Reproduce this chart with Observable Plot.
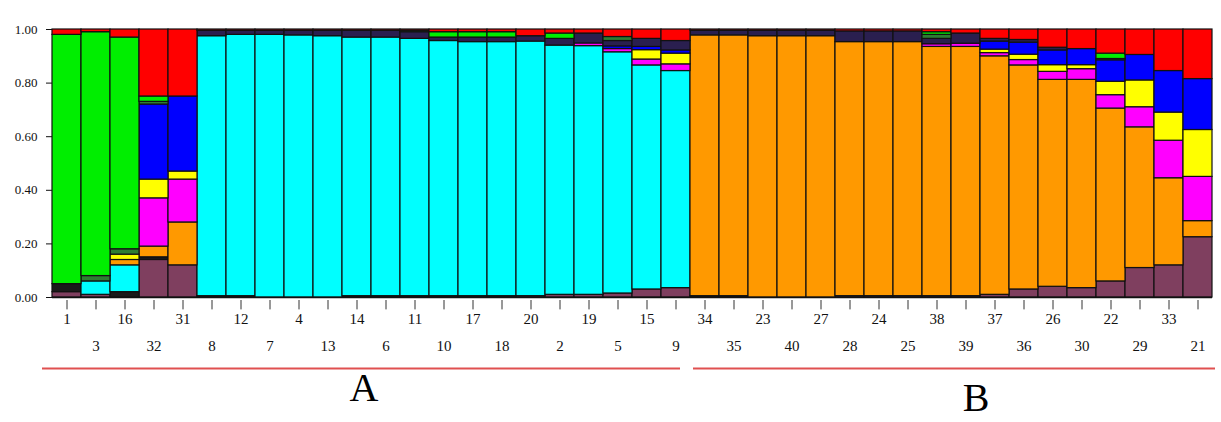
<!DOCTYPE html>
<html>
<head>
<meta charset="utf-8">
<script src="https://cdn.jsdelivr.net/npm/d3@7"></script>
<script src="https://cdn.jsdelivr.net/npm/@observablehq/plot@0.6"></script>
<style>
  html, body { margin: 0; padding: 0; background: #fff; }
  #chart { width: 1221px; height: 422px; }
</style>
</head>
<body>
<div id="chart"></div>
<script>
// Individuals in plotted order
const ids = ["1","3","16","32","31","8","12","7","4","13","14","6","11","10","17","18","20","2","19","5","15","9",
             "34","35","23","40","27","28","24","25","38","39","37","36","26","30","22","29","33","21"];

// Clusters (bottom to top) and their colours
const clusters = ["K1","K2","K3","K4","K5","K6","K7","K8","K9","K10","K11"];
const clusterColors = ["#7f3f5f","#1a1a1a","#00ffff","#ff9900","#ff00ff","#ffff00","#0000ff","#2a1f4f","#2e7d32","#00ee00","#ff0000"];

// Membership coefficients per cluster (one value per individual, same order as ids)
const k1maroon    = [.02,.01,0,.14,.12, 0,0,0,0,0, 0,0,0,0,0, 0,.005,.01,.01,.015, .03,.035, 0,0,0,0,0, .005,.005,.005,.005,.005, .01,.03,.04,.035,.06,.11,.12,.225];
const k2black     = [.03,0,.02,.01,0, .005,.005,0,0,0, .005,.005,.005,.005,.005, .005,0,0,0,0, 0,0, .005,.005,0,0,0, 0,0,0,0,0, 0,0,0,0,0,0,0,0];
const k3cyan      = [0,.05,.10,0,0, .97,.975,.98,.978,.975, .965,.965,.96,.952,.948, .948,.95,.93,.928,.9, .836,.81, 0,0,0,0,0, 0,0,0,0,0, 0,0,0,0,0,0,0,0];
const k4orange    = [0,0,.02,.04,.16, 0,0,0,0,0, 0,0,0,0,0, 0,0,0,0,0, 0,0, .973,.973,.975,.975,.975, .948,.948,.948,.93,.93, .89,.836,.772,.777,.645,.525,.325,.06];
const k5magenta   = [0,0,0,.18,.16, 0,0,0,0,0, 0,0,0,0,0, 0,0,0,.01,.012, .022,.025, 0,0,0,0,0, 0,0,0,.01,.012, .012,.02,.03,.04,.05,.075,.14,.165];
const k6yellow    = [0,0,.02,.07,.03, 0,0,0,0,0, 0,0,0,0,0, 0,0,0,0,0, .035,.04, 0,0,0,0,0, 0,0,0,0,0, .013,.02,.025,.015,.05,.1,.105,.175];
const k7blue      = [0,0,0,.28,.28, 0,0,0,0,0, 0,0,0,0,0, 0,0,0,0,.01, .012,.012, 0,0,0,0,0, 0,0,0,0,0, .03,.045,.055,.06,.08,.095,.155,.19];
const k8navy      = [0,0,0,0,0, .02,.015,.015,.017,.02, .025,.025,.025,.013,.017, .017,.02,.025,.037,.02, .03,.035, .017,.017,.02,.02,.02, .04,.04,.04,.02,.038, .01,.01,.01,0,0,0,0,0];
const k9darkgreen = [0,.02,.02,.01,0, 0,0,0,0,0, 0,0,.005,0,0, 0,0,0,0,.015, 0,0, 0,0,0,0,0, 0,0,0,.015,0, 0,0,0,0,.005,0,0,0];
const k10green    = [.93,.91,.79,.02,0, 0,0,0,0,0, 0,0,0,.02,.02, .02,0,.02,0,0, 0,0, 0,0,0,0,0, 0,0,0,.01,0, 0,0,0,0,.02,0,0,0];
const k11red      = [.02,.01,.03,.25,.25, .005,.005,.005,.005,.005, .005,.005,.005,.01,.01, .01,.025,.015,.015,.028, .035,.043, .005,.005,.005,.005,.005, .007,.007,.007,.01,.015, .035,.039,.068,.073,.09,.095,.155,.185];

// Groups
const groups = [{name: "A", from: "1", to: "9", labelAt: "14"}, {name: "B", from: "34", to: "21", labelAt: "39"}];
const yTicks = [0, 0.2, 0.4, 0.6, 0.8, 1.0];

const series = [k1maroon, k2black, k3cyan, k4orange, k5magenta, k6yellow, k7blue, k8navy, k9darkgreen, k10green, k11red];
const data = [];
clusters.forEach((c, j) => {
  series[j].forEach((v, i) => { if (v > 0) data.push({id: ids[i], cluster: c, value: v}); });
});

const serif = "Liberation Serif, Times New Roman, serif";

const chart = Plot.plot({
  width: 1221,
  height: 422,
  marginLeft: 52,
  marginRight: 9,
  marginTop: 29,
  marginBottom: 125,
  style: {background: "#fff", fontFamily: serif, overflow: "visible"},
  x: {type: "band", domain: ids, padding: 0, axis: null},
  y: {domain: [0, 1], axis: null},
  color: {type: "ordinal", domain: clusters, range: clusterColors},
  marks: [
    Plot.barY(data, {x: "id", y: "value", fill: "cluster", stroke: "#111", strokeWidth: 1.2}),
    Plot.ruleY([0], {stroke: "#111", strokeWidth: 1.5}),
    Plot.axisY({ticks: yTicks, tickFormat: d3.format(".2f"), tickSize: 6, tickPadding: 9, fontSize: 13, fontFamily: serif, label: null, color: "#111"}),
    Plot.ruleX(ids, {x: d => d, y1: 0, y2: -0.035, dy: 3, stroke: "#333"}),
    Plot.text(ids.filter((d, i) => i % 2 === 0), {x: d => d, text: d => d, frameAnchor: "bottom", dy: 26, fontSize: 15, fontFamily: serif, fill: "#111"}),
    Plot.text(ids.filter((d, i) => i % 2 === 1), {x: d => d, text: d => d, frameAnchor: "bottom", dy: 53, fontSize: 15, fontFamily: serif, fill: "#111"}),
    Plot.ruleY(groups.slice(0, 1), {x1: "from", x2: "to", y: () => 0, dy: 71, dx: -10, stroke: "#e05050", strokeWidth: 2}),
    Plot.ruleY(groups.slice(1), {x1: "from", x2: "to", y: () => 0, dy: 71, dx: 3, stroke: "#e05050", strokeWidth: 2}),
    Plot.text(groups.slice(0, 1), {x: "labelAt", text: "name", frameAnchor: "bottom", dy: 103, dx: 7, fontSize: 40, fontFamily: serif, fill: "#000"}),
    Plot.text(groups.slice(1), {x: "labelAt", text: "name", frameAnchor: "bottom", dy: 113, dx: 10, fontSize: 40, fontFamily: serif, fill: "#000"})
  ]
});
document.getElementById("chart").appendChild(chart);
</script>
</body>
</html>
